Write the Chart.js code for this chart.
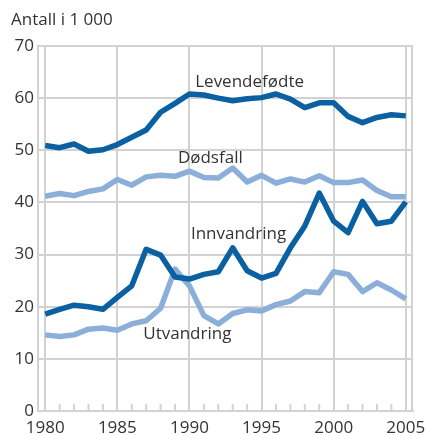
<!DOCTYPE html>
<html>
<head>
<meta charset="utf-8">
<script src="https://cdn.jsdelivr.net/npm/chart.js@4.4.1/dist/chart.umd.min.js"></script>
<style>
  html, body { margin: 0; padding: 0; background: #fff; }
  #chart { display: block; }
</style>
</head>
<body>
<canvas id="chart" width="427" height="435"></canvas>
<script>
// ---- Data (thousands) ----
const years = [1980, 1981, 1982, 1983, 1984, 1985, 1986, 1987, 1988, 1989,
               1990, 1991, 1992, 1993, 1994, 1995, 1996, 1997, 1998, 1999,
               2000, 2001, 2002, 2003, 2004, 2005];

const levendefodte = [50.9, 50.5, 51.2, 49.8, 50.1, 51.1, 52.5, 53.9, 57.3, 59.0,
                      60.8, 60.6, 60.0, 59.5, 59.9, 60.1, 60.8, 59.8, 58.2, 59.1,
                      59.1, 56.5, 55.3, 56.3, 56.8, 56.6];

const dodsfall = [41.2, 41.7, 41.3, 42.1, 42.6, 44.4, 43.3, 44.9, 45.2, 45.0,
                  46.0, 44.8, 44.7, 46.6, 43.9, 45.2, 43.7, 44.5, 43.9, 45.1,
                  43.8, 43.8, 44.3, 42.3, 41.1, 41.1];

const innvandring = [18.6, 19.5, 20.3, 20.0, 19.5, 21.8, 24.0, 31.0, 29.9, 25.7,
                     25.3, 26.2, 26.7, 31.3, 26.9, 25.5, 26.4, 31.3, 35.5, 41.8,
                     36.4, 34.2, 40.2, 35.9, 36.4, 40.1];

const utvandring = [14.6, 14.3, 14.6, 15.7, 15.9, 15.5, 16.7, 17.3, 19.7, 27.2,
                    24.0, 18.3, 16.7, 18.7, 19.4, 19.2, 20.4, 21.1, 22.9, 22.7,
                    26.7, 26.2, 22.9, 24.6, 23.2, 21.5];

const xTickLabels = [1980, 1985, 1990, 1995, 2000, 2005];
const yTickLabels = [0, 10, 20, 30, 40, 50, 60, 70];

// series labels: [text, year, value] anchor (left edge, vertical centre)
const seriesLabels = [
  ['Levendefødte', 1990.4, 63.0],
  ['Dødsfall',     1989.2, 48.4],
  ['Innvandring',  1990.1, 33.9],
  ['Utvandring',   1986.8, 14.8]
];

// ---- Styling ----
const DARK  = '#0a60a1';
const LIGHT = '#8cafd9';
const GRID  = '#d2d2d2';
const TEXT  = '#333333';
const FONT  = '"Open Sans", "Noto Sans", sans-serif';

const toPts = arr => arr.map((v, i) => ({ x: years[i], y: v }));

// Draws title, right frame edge, minor year ticks and the series labels
const extras = {
  id: 'extras',
  beforeDatasetsDraw(chart) {
    const { ctx, chartArea, scales } = chart;
    ctx.save();
    ctx.strokeStyle = GRID;
    ctx.lineWidth = 2;
    // right edge of the frame
    ctx.beginPath();
    ctx.moveTo(chartArea.right - 1, chartArea.top);
    ctx.lineTo(chartArea.right - 1, chartArea.bottom);
    ctx.stroke();
    // small year ticks standing on the x axis
    years.forEach(yr => {
      if (yr % 5 === 0) return;
      const x = scales.x.getPixelForValue(yr);
      ctx.beginPath();
      ctx.moveTo(x, chartArea.bottom);
      ctx.lineTo(x, chartArea.bottom - 7);
      ctx.stroke();
    });
    ctx.restore();
  },
  afterDraw(chart) {
    const { ctx, scales } = chart;
    ctx.save();
    ctx.fillStyle = TEXT;
    ctx.font = '17px ' + FONT;
    ctx.textBaseline = 'middle';
    ctx.textAlign = 'left';
    ctx.fillText('Antall i 1 000', 11, 20);
    seriesLabels.forEach(([txt, yr, val]) => {
      ctx.fillText(txt, scales.x.getPixelForValue(yr), scales.y.getPixelForValue(val));
    });
    ctx.restore();
  }
};

const lineStyle = {
  borderWidth: 5.5,
  pointRadius: 0,
  tension: 0,
  fill: false,
  borderJoinStyle: 'round'
};

new Chart(document.getElementById('chart'), {
  type: 'line',
  data: {
    datasets: [
      { label: 'Levendefødte', data: toPts(levendefodte), borderColor: DARK,  order: 1, ...lineStyle },
      { label: 'Dødsfall',     data: toPts(dodsfall),     borderColor: LIGHT, order: 2, ...lineStyle },
      { label: 'Innvandring',  data: toPts(innvandring),  borderColor: DARK,  order: 1, ...lineStyle },
      { label: 'Utvandring',   data: toPts(utvandring),   borderColor: LIGHT, order: 2, ...lineStyle }
    ]
  },
  options: {
    responsive: false,
    devicePixelRatio: 1,
    animation: false,
    layout: { padding: { top: 46, right: 14, left: 0, bottom: 0 } },
    plugins: {
      legend: { display: false },
      tooltip: { enabled: false }
    },
    scales: {
      x: {
        type: 'linear',
        min: 1979.5,
        max: 2005.5,
        afterBuildTicks: s => { s.ticks = xTickLabels.map(v => ({ value: v })); },
        afterFit: s => {
          s.height = 24;
          s.paddingLeft = 0;
          s.paddingRight = 0;
        },
        ticks: {
          color: TEXT,
          font: { family: FONT, size: 17 },
          padding: 7,
          maxRotation: 0,
          autoSkip: false,
          callback: v => String(v)
        },
        grid: { color: GRID, lineWidth: 2, drawTicks: false },
        border: { display: true, color: GRID, width: 2 }
      },
      y: {
        min: 0,
        max: 70,
        afterBuildTicks: s => { s.ticks = yTickLabels.map(v => ({ value: v })); },
        afterFit: s => {
          s.width = 38;
          s.paddingTop = 0;
          s.paddingBottom = 0;
        },
        ticks: {
          color: TEXT,
          font: { family: FONT, size: 17 },
          padding: 4
        },
        grid: { color: GRID, lineWidth: 2, drawTicks: false },
        border: { display: true, color: GRID, width: 2 }
      }
    }
  },
  plugins: [extras]
});
</script>
</body>
</html>
